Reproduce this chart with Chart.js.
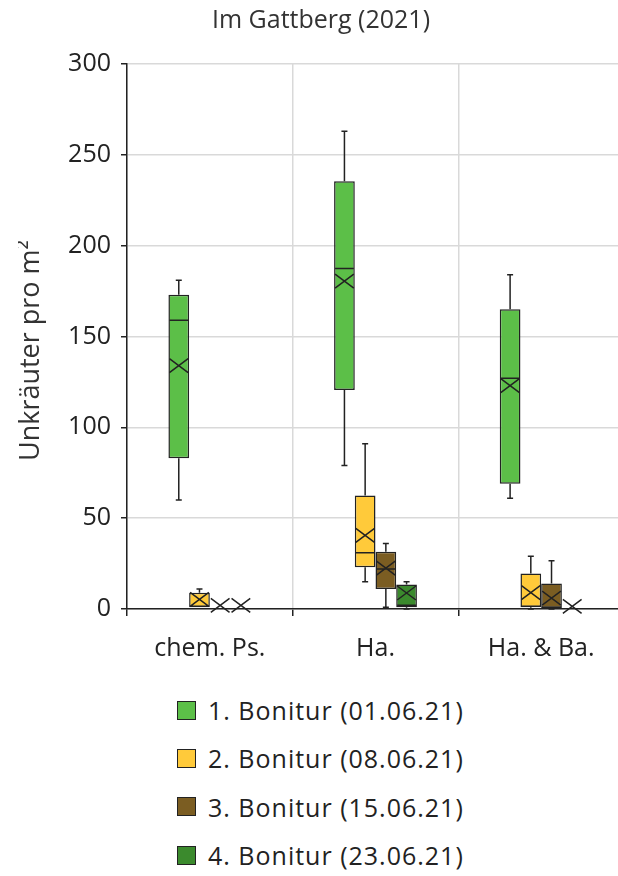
<!DOCTYPE html>
<html>
<head>
<meta charset="utf-8">
<script src="https://cdn.jsdelivr.net/npm/chart.js@4.4.1/dist/chart.umd.min.js"></script>
<style>
  html, body { margin: 0; padding: 0; background: #fff; overflow: hidden; }
  #wrap { position: absolute; left: 18px; top: 0; width: 606px; height: 680px; }
  #legende { position: absolute; left: 177px; top: 686px; font-family: 'Open Sans', sans-serif; font-size: 25px; letter-spacing: 1px; color: #222; }
  .eintrag { display: flex; align-items: center; height: 48.3px; }
  .kaestchen { width: 17px; height: 17px; border: 1.5px solid #222; margin-right: 12px; }
</style>
</head>
<body>
<div id="wrap"><canvas id="grafico"></canvas></div>
<div id="legende"></div>
<script>
  const kategorien = ['chem. Ps.', 'Ha.', 'Ha. & Ba.'];
  const serien = ['1. Bonitur (01.06.21)', '2. Bonitur (08.06.21)', '3. Bonitur (15.06.21)', '4. Bonitur (23.06.21)'];
  const farben = ['#5cbf48', '#ffca3a', '#7b5d22', '#3b8a2d'];

  // eine Zeile je Bonitur, eine Spalte je Variante
  const minimum    = [[60, 79, 61], [1, 15, 0], [0, 1, 0], [0, 0, 0]];
  const quartil1   = [[83, 120.5, 69], [1, 23, 1], [0, 11, 0.5], [0, 1, 0]];
  const median     = [[159, 187.5, 127], [1.5, 31, 1.5], [0, 22, 1], [0, 2, 0]];
  const quartil3   = [[173, 235.5, 165], [9, 62.5, 19.5], [0, 31.5, 14], [0, 13.5, 0]];
  const maximum    = [[181, 263, 184], [11, 91, 29], [0, 36, 26.5], [0, 15, 0]];
  const mittelwert = [[134, 180.5, 123], [5.3, 40.5, 9], [2, 22.5, 6], [2, 8.8, 1.5]];

  const schrift = "'Open Sans', sans-serif";
  Chart.defaults.font.family = schrift;

  // Whisker, Median und Mittelwert-Kreuz auf die Balken zeichnen
  const boxWhisker = {
    id: 'boxWhisker',
    afterDatasetsDraw(chart) {
      const ctx = chart.ctx;
      const y = chart.scales.y;
      ctx.save();
      ctx.strokeStyle = '#222';
      ctx.lineWidth = 1.5;
      chart.data.datasets.forEach((ds, i) => {
        chart.getDatasetMeta(i).data.forEach((bar, j) => {
          const x = bar.x;
          const h = bar.width / 2 - 1;
          const yMin = y.getPixelForValue(minimum[i][j]);
          const yQ1 = y.getPixelForValue(quartil1[i][j]);
          const yMed = y.getPixelForValue(median[i][j]);
          const yQ3 = y.getPixelForValue(quartil3[i][j]);
          const yMax = y.getPixelForValue(maximum[i][j]);
          const yMw = y.getPixelForValue(mittelwert[i][j]);
          ctx.beginPath();
          if (maximum[i][j] > quartil3[i][j]) {
            ctx.moveTo(x, yQ3); ctx.lineTo(x, yMax);
            ctx.moveTo(x - 3, yMax); ctx.lineTo(x + 3, yMax);
          }
          if (minimum[i][j] < quartil1[i][j]) {
            ctx.moveTo(x, yQ1); ctx.lineTo(x, yMin);
            ctx.moveTo(x - 3, yMin); ctx.lineTo(x + 3, yMin);
          }
          if (quartil3[i][j] > quartil1[i][j]) {
            ctx.moveTo(x - h, yMed); ctx.lineTo(x + h, yMed);
          }
          ctx.moveTo(x - h, yMw - 7); ctx.lineTo(x + h, yMw + 7);
          ctx.moveTo(x - h, yMw + 7); ctx.lineTo(x + h, yMw - 7);
          ctx.stroke();
        });
      });
      ctx.restore();
    }
  };

  const ctx = document.getElementById('grafico').getContext('2d');
  const chart = new Chart(ctx, {
    type: 'bar',
    data: {
      labels: kategorien,
      datasets: serien.map((name, i) => ({
        label: name,
        data: kategorien.map((_, j) => [quartil1[i][j], quartil3[i][j]]),
        backgroundColor: farben[i],
        borderColor: '#222',
        borderWidth: 1.5,
        borderSkipped: false,
        categoryPercentage: 0.5,
        barPercentage: 1
      }))
    },
    options: {
      responsive: true,
      maintainAspectRatio: false,
      animation: false,
      layout: { padding: 0 },
      scales: {
        x: {
          grid: { offset: true, color: '#d9d9d9', lineWidth: 1.5, tickLength: 7, tickColor: '#222' },
          border: { color: '#222', width: 1.5 },
          ticks: { color: '#222', font: { size: 25 }, padding: 18 },
          afterFit: (scale) => { scale.height = 71; }
        },
        y: {
          min: 0,
          max: 300,
          ticks: { stepSize: 50, color: '#222', font: { size: 25 }, padding: 10 },
          grid: { color: '#d9d9d9', lineWidth: 1.5, tickLength: 6, tickColor: '#222' },
          border: { color: '#222', width: 1.5 },
          title: {
            display: true,
            // Leerzeichen am Ende schieben den Titel etwas nach unten
            text: 'Unkräuter pro m²    ',
            color: '#333',
            font: { size: 27, lineHeight: 1 },
            padding: { top: 0, bottom: 0 }
          },
          afterFit: (scale) => { scale.width = 109; }
        }
      },
      plugins: {
        legend: { display: false },
        tooltip: { enabled: false },
        title: {
          display: true,
          text: 'Im Gattberg (2021)',
          color: '#333',
          font: { size: 25, weight: 'normal', lineHeight: 1.2 },
          padding: { top: 6, bottom: 28 }
        }
      }
    },
    plugins: [boxWhisker]
  });

  // Legende als Liste unter dem Diagramm
  const legende = document.getElementById('legende');
  serien.forEach((name, i) => {
    const zeile = document.createElement('div');
    zeile.className = 'eintrag';
    const kasten = document.createElement('span');
    kasten.className = 'kaestchen';
    kasten.style.background = farben[i];
    const text = document.createElement('span');
    text.textContent = name;
    zeile.appendChild(kasten);
    zeile.appendChild(text);
    legende.appendChild(zeile);
  });
</script>
</body>
</html>
